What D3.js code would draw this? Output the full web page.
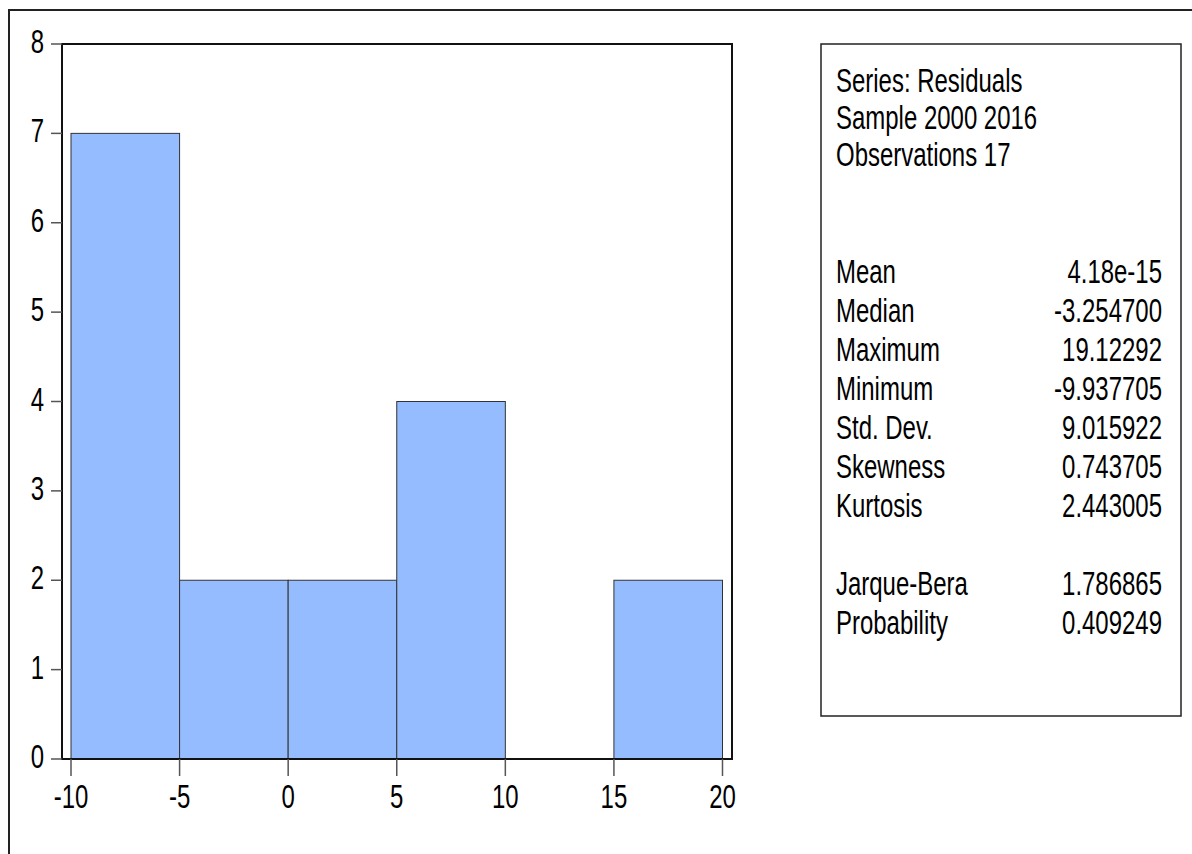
<!DOCTYPE html>
<html><head><meta charset="utf-8">
<script src="https://cdn.jsdelivr.net/npm/d3@7"></script>
<style>html,body{margin:0;padding:0;background:#fff;}svg{display:block;}</style>
</head><body>
<script>
// ---- data ----
const binStarts = [-10, -5, 0, 5, 10, 15];
const binWidth = 5;
const counts = [7, 2, 2, 4, 0, 2];
const xTicks = [-10, -5, 0, 5, 10, 15, 20];
const yTicks = [0, 1, 2, 3, 4, 5, 6, 7, 8];
const headerLines = ["Series: Residuals", "Sample 2000 2016", "Observations 17"];
const statNames = ["Mean", "Median", "Maximum", "Minimum", "Std. Dev.", "Skewness", "Kurtosis"];
const statValues = ["4.18e-15", "-3.254700", "19.12292", "-9.937705", "9.015922", "0.743705", "2.443005"];
const testNames = ["Jarque-Bera", "Probability"];
const testValues = ["1.786865", "0.409249"];

const W = 1192, H = 854;
const FONT = "'Liberation Sans', Arial, sans-serif";
const FS = 34, SX = 0.705;

const svg = d3.select("body").append("svg").attr("width", W).attr("height", H);

// outer frame
svg.append("rect").attr("x", 9).attr("y", 10).attr("width", 1300).attr("height", 1000)
  .attr("fill", "none").attr("stroke", "#222").attr("stroke-width", 2);

const x = d3.scaleLinear().domain([-10, 20]).range([71, 722.5]);
const y = d3.scaleLinear().domain([0, 8]).range([759, 44]);

const plot = {l: 62, r: 732, t: 44, b: 759};

function txt(g, xx, yy, s, anchor) {
  return g.append("text")
    .attr("transform", `translate(${xx},${yy}) scale(${SX},1)`)
    .attr("text-anchor", anchor || "start")
    .attr("font-family", FONT).attr("font-size", FS).attr("fill", "#000")
    .text(s);
}

// bars
svg.append("g").selectAll("rect").data(binStarts.map((s, i) => ({s, c: counts[i]})).filter(d => d.c > 0))
  .join("rect")
  .attr("x", d => x(d.s)).attr("width", d => x(d.s + binWidth) - x(d.s))
  .attr("y", d => y(d.c)).attr("height", d => y(0) - y(d.c))
  .attr("fill", "#95BCFF").attr("stroke", "#333").attr("stroke-width", 1);

// plot frame
svg.append("rect").attr("x", plot.l).attr("y", plot.t)
  .attr("width", plot.r - plot.l).attr("height", plot.b - plot.t)
  .attr("fill", "none").attr("stroke", "#111").attr("stroke-width", 2);

// x ticks
const gx = svg.append("g");
xTicks.forEach(v => {
  gx.append("line").attr("x1", x(v)).attr("x2", x(v)).attr("y1", plot.b).attr("y2", 776)
    .attr("stroke", "#555").attr("stroke-width", 1.5);
  txt(gx, x(v), 808, String(v), "middle");
});

// y ticks
const gy = svg.append("g");
yTicks.forEach(v => {
  gy.append("line").attr("x1", 51).attr("x2", plot.l).attr("y1", y(v)).attr("y2", y(v))
    .attr("stroke", "#555").attr("stroke-width", 1.5);
  txt(gy, 44, y(v) + 9, String(v), "end");
});

// stats box
svg.append("rect").attr("x", 821).attr("y", 44).attr("width", 360).attr("height", 672)
  .attr("fill", "none").attr("stroke", "#222").attr("stroke-width", 1.5);

const gs = svg.append("g");
const LX = 836, RX = 1162;
const LH = 39;
headerLines.forEach((s, i) => txt(gs, LX, 92 + i * 37, s));
statNames.forEach((s, i) => {
  txt(gs, LX, 283 + i * LH, s);
  txt(gs, RX, 283 + i * LH, statValues[i], "end");
});
testNames.forEach((s, i) => {
  txt(gs, LX, 283 + 8 * LH + i * LH, s);
  txt(gs, RX, 283 + 8 * LH + i * LH, testValues[i], "end");
});
</script>
</body></html>
